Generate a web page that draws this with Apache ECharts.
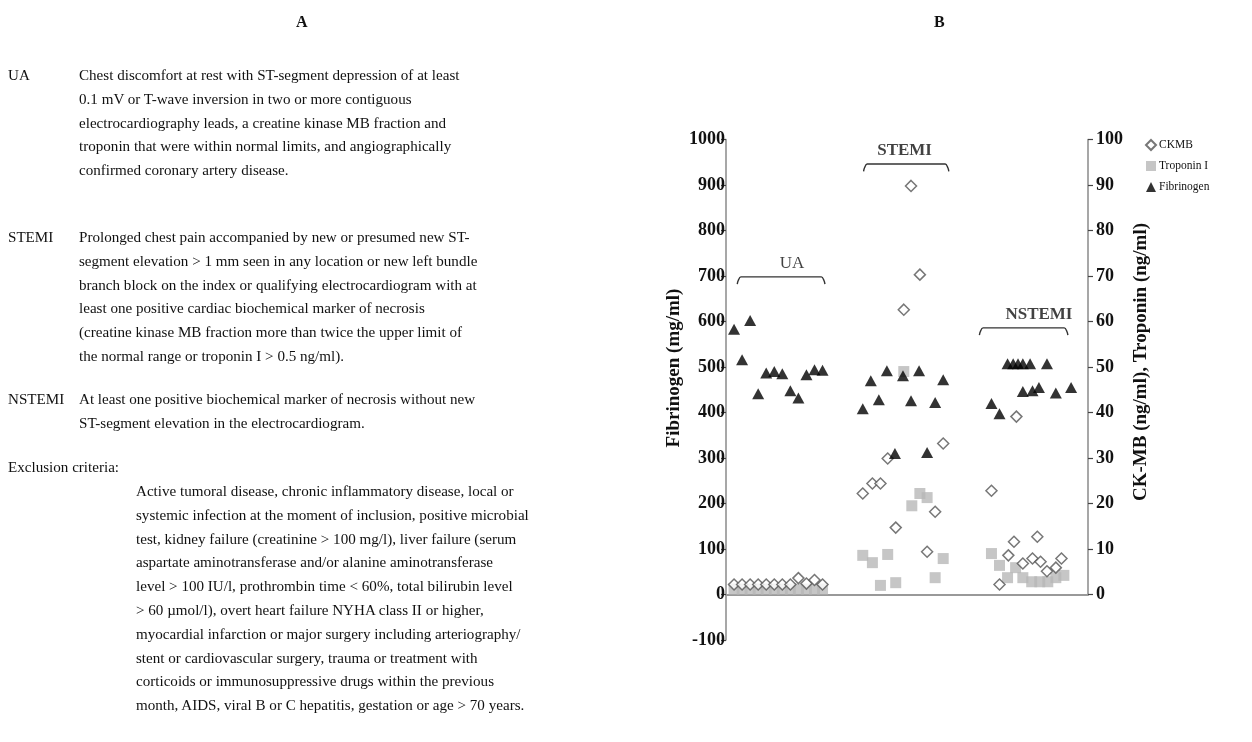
<!DOCTYPE html>
<html>
<head>
<meta charset="utf-8">
<script src="https://cdn.jsdelivr.net/npm/echarts@6/dist/echarts.min.js"></script>
<style>
  html, body { margin: 0; padding: 0; background: #fff; }
  #wrap { position: relative; width: 1252px; height: 742px; overflow: hidden; font-family: "Liberation Serif", "DejaVu Serif", serif; color: #111; }
  #chart { position: absolute; left: 0; top: 0; width: 1252px; height: 742px; }
  .t { position: absolute; font-size: 15.1px; line-height: 23.8px; white-space: nowrap; }
  .h { position: absolute; font-weight: bold; font-size: 16px; }
</style>
</head>
<body>
<div id="wrap">
  <div id="chart"></div>
  <div class="h" style="left:296px; top:13px;">A</div>
  <div class="h" style="left:934px; top:13px;">B</div>

  <div class="t" style="left:8px; top:64px;">UA</div>
  <div class="t" style="left:79px; top:64px;">Chest discomfort at rest with ST-segment depression of at least<br>0.1 mV or T-wave inversion in two or more contiguous<br>electrocardiography leads, a creatine kinase MB fraction and<br>troponin that were within normal limits, and angiographically<br>confirmed coronary artery disease.</div>

  <div class="t" style="left:8px; top:226px;">STEMI</div>
  <div class="t" style="left:79px; top:226px;">Prolonged chest pain accompanied by new or presumed new ST-<br>segment elevation &gt; 1 mm seen in any location or new left bundle<br>branch block on the index or qualifying electrocardiogram with at<br>least one positive cardiac biochemical marker of necrosis<br>(creatine kinase MB fraction more than twice the upper limit of<br>the normal range or troponin I &gt; 0.5 ng/ml).</div>

  <div class="t" style="left:8px; top:388px;">NSTEMI</div>
  <div class="t" style="left:79px; top:388px;">At least one positive biochemical marker of necrosis without new<br>ST-segment elevation in the electrocardiogram.</div>

  <div class="t" style="left:8px; top:456px;">Exclusion criteria:</div>
  <div class="t" style="left:136px; top:480px;">Active tumoral disease, chronic inflammatory disease, local or<br>systemic infection at the moment of inclusion, positive microbial<br>test, kidney failure (creatinine &gt; 100 mg/l), liver failure (serum<br>aspartate aminotransferase and/or alanine aminotransferase<br>level &gt; 100 IU/l, prothrombin time &lt; 60%, total bilirubin level<br>&gt; 60 µmol/l), overt heart failure NYHA class II or higher,<br>myocardial infarction or major surgery including arteriography/<br>stent or cardiovascular surgery, trauma or treatment with<br>corticoids or immunosuppressive drugs within the previous<br>month, AIDS, viral B or C hepatitis, gestation or age &gt; 70 years.</div>
</div>
<script>
// ---- Data (x = patient slot along the horizontal axis, y = measured value) ----
const fibrinogenUA = [[1,583],[2,516],[3,602],[4,441],[5,487],[6,490],[7,485],[8,448],[9,432],[10,483],[11,494],[12,493]];
const fibrinogenSTEMI = [[17,408],[18,470],[19,428],[20,492],[21,310],[22,481],[23,426],[24,492],[25,312],[26,422],[27,472]];
const fibrinogenNSTEMI = [[33,420],[34,397],[35,507],[35.7,507],[36.3,507],[36.9,507],[37.8,507],[39.9,507],[36.9,446],[38.1,448],[38.9,455],[41,443],[42.9,455]];

const ckmbUA = [[1,2.2],[2,2.2],[3,2.2],[4,2.2],[5,2.2],[6,2.2],[7,2.2],[8,2.2],[9,3.6],[10,2.4],[11,3.2],[12,2.2]];
const ckmbSTEMI = [[17,22.2],[18.2,24.4],[19.2,24.4],[20.1,29.9],[21.1,14.7],[22.1,62.6],[23,89.8],[24.1,70.3],[25,9.4],[26,18.2],[27,33.2]];
const ckmbNSTEMI = [[33,22.8],[34,2.2],[35.1,8.6],[35.8,11.6],[36.1,39.1],[36.9,6.8],[38.1,7.9],[38.7,12.7],[39.1,7.2],[39.9,5.1],[41,5.9],[41.7,7.9]];

const troponinUA = [[1,1.2],[2,1.2],[3,1.2],[4,1.2],[5,1.2],[6,1.2],[7,1.2],[8,1.2],[9,1.2],[10,1.2],[11,1.2],[12,1.2]];
const troponinSTEMI = [[17,8.6],[18.2,7.0],[19.2,2.0],[20.1,8.8],[21.1,2.6],[22.1,49],[23.1,19.5],[24.1,22.2],[25,21.3],[26,3.7],[27,7.9]];
const troponinNSTEMI = [[33,9.0],[34,6.4],[35,3.7],[36,5.9],[36.9,3.7],[38,2.8],[39,2.8],[40,2.8],[41,3.7],[42,4.2]];

const groupNames = ['UA', 'STEMI', 'NSTEMI'];
const groupSpans = [[1.4, 12.3], [17.1, 27.7], [31.5, 42.5]];   // slot range of each bracket
const bracketLevels = [698, 946, 586];                            // bracket height, mg/ml
const labelSlots = [8.2, 22.2, 38.9];                             // label centre, slot units
const leftTicks = [-100, 1000, 100];    // min, max, interval (mg/ml)
const rightTicks = [0, 100, 10];        // min, max, interval (ng/ml)
const slotRange = [0, 45];

// ---- Build ----
const serif = '"Liberation Serif", "DejaVu Serif", serif';
const axisGray = '#8a8a8a';

function bracket(i) {
  const [a, b] = groupSpans[i];
  const top = bracketLevels[i];
  const drop = 16;
  return [[a, top - drop], [a + 0.12, top - 8], [a + 0.45, top], [b - 0.45, top], [b - 0.12, top - 8], [b, top - drop]];
}

const bracketSeries = groupNames.map((g, i) => ({
  type: 'line', xAxisIndex: 0, yAxisIndex: 0, data: bracket(i),
  smooth: 0.35, symbol: 'none', silent: true, z: 1,
  lineStyle: { color: '#333', width: 1.4 }
}));

const labelSeries = {
  type: 'scatter', xAxisIndex: 0, yAxisIndex: 0, symbolSize: 0, silent: true,
  data: groupNames.map((g, i) => ({
    name: g,
    value: [labelSlots[i], bracketLevels[i] + 6],
    label: i === 0 ? { fontWeight: 'normal', fontSize: 17 } : {}
  })),
  label: {
    show: true, position: 'top', distance: 2,
    formatter: p => p.name,
    fontFamily: serif, fontSize: 17, color: '#111',
    fontWeight: 'bold'
  }
};

const tickLabel = { fontFamily: serif, fontSize: 18, fontWeight: 'bold', color: '#111', formatter: v => String(v) };

const option = {
  animation: false,
  grid: [
    { left: 726, right: 164, top: 139.5, bottom: 102 },
    { left: 726, right: 164, top: 139.5, bottom: 147.5 }
  ],
  xAxis: [
    { gridIndex: 0, type: 'value', min: slotRange[0], max: slotRange[1],
      axisLine: { show: true, onZero: true, lineStyle: { color: '#999', width: 2 } },
      axisTick: { show: false }, axisLabel: { show: false }, splitLine: { show: false } },
    { gridIndex: 1, type: 'value', min: slotRange[0], max: slotRange[1], show: false }
  ],
  yAxis: [
    { gridIndex: 0, type: 'value', min: leftTicks[0], max: leftTicks[1], interval: leftTicks[2], position: 'left',
      axisLine: { show: true, onZero: false, lineStyle: { color: axisGray, width: 1.5 } },
      axisTick: { show: true, length: 5, lineStyle: { color: '#444', width: 1.2 } },
      axisLabel: Object.assign({ margin: 1 }, tickLabel),
      splitLine: { show: false } },
    { gridIndex: 1, type: 'value', min: rightTicks[0], max: rightTicks[1], interval: rightTicks[2], position: 'right',
      axisLine: { show: true, onZero: false, lineStyle: { color: axisGray, width: 1.5 } },
      axisTick: { show: true, length: 5, lineStyle: { color: '#444', width: 1.2 } },
      axisLabel: Object.assign({ margin: 8 }, tickLabel),
      splitLine: { show: false } }
  ],
  legend: {
    orient: 'vertical', left: 1140, top: 134, itemGap: 9, itemWidth: 10, itemHeight: 10,
    textStyle: { fontFamily: serif, fontSize: 11.5, color: '#111', padding: [0, 0, 0, -2] },
    data: ['CKMB', 'Troponin I', 'Fibrinogen']
  },
  graphic: [
    { type: 'text', x: 674, y: 368, rotation: Math.PI / 2,
      style: { text: 'Fibrinogen (mg/ml)', font: 'bold 19px ' + serif, fill: '#111', textAlign: 'center', textVerticalAlign: 'middle' } },
    { type: 'text', x: 1141, y: 362, rotation: Math.PI / 2,
      style: { text: 'CK-MB (ng/ml), Troponin (ng/ml)', font: 'bold 19px ' + serif, fill: '#111', textAlign: 'center', textVerticalAlign: 'middle' } }
  ],
  series: [
    { name: 'Troponin I', type: 'scatter', xAxisIndex: 1, yAxisIndex: 1, symbol: 'rect', symbolSize: 11, z: 2,
      itemStyle: { color: '#b8b8b8' },
      data: troponinUA.concat(troponinSTEMI, troponinNSTEMI) },
    { name: 'CKMB', type: 'scatter', xAxisIndex: 1, yAxisIndex: 1, symbol: 'diamond', symbolSize: 11, z: 3,
      itemStyle: { color: '#fff', borderColor: '#555', borderWidth: 1.5 },
      data: ckmbUA.concat(ckmbSTEMI, ckmbNSTEMI) },
    { name: 'Fibrinogen', type: 'scatter', xAxisIndex: 0, yAxisIndex: 0, symbol: 'triangle', symbolSize: [12, 11], z: 4,
      itemStyle: { color: '#000' },
      data: fibrinogenUA.concat(fibrinogenSTEMI, fibrinogenNSTEMI) },
    ...bracketSeries,
    labelSeries
  ]
};

const chart = echarts.init(document.getElementById('chart'), null, { renderer: 'canvas' });
chart.setOption(option);
</script>
</body>
</html>
